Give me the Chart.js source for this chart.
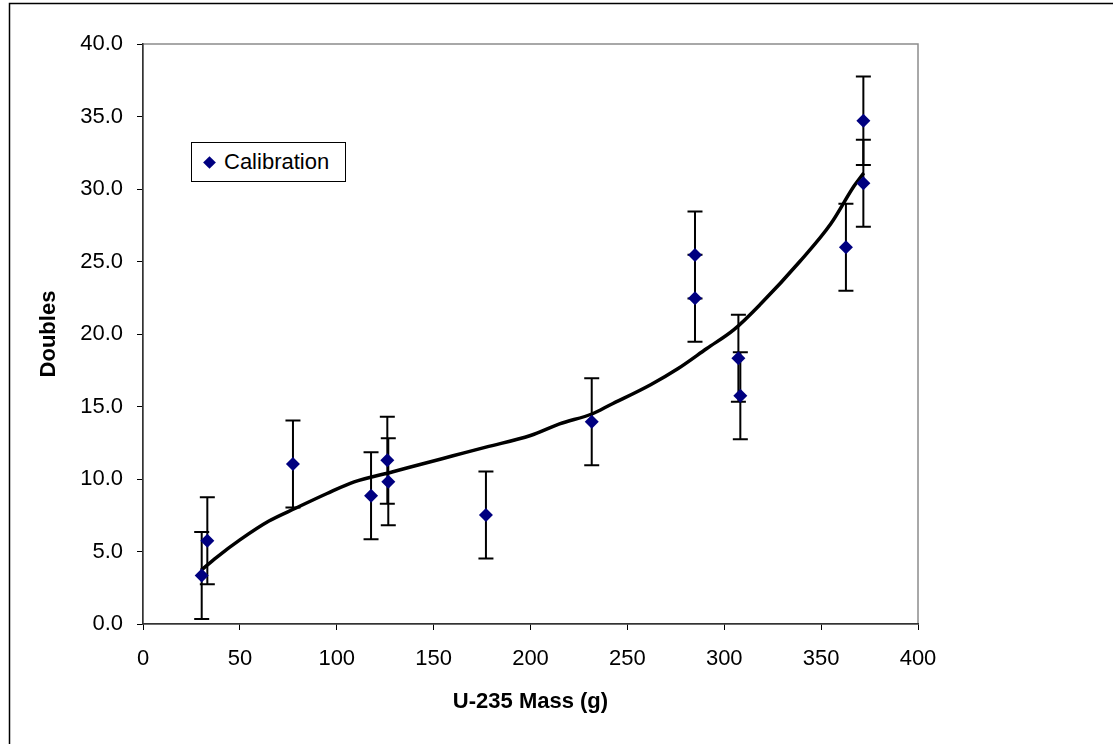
<!DOCTYPE html>
<html>
<head>
<meta charset="utf-8">
<script src="https://cdn.jsdelivr.net/npm/chart.js@4.4.1/dist/chart.umd.min.js"></script>
<style>
    body { margin: 0; background: #fff; overflow: hidden; }
    #wrap { position: relative; width: 1113px; height: 744px; }
    #legend {
        position: absolute; left: 191px; top: 142px; width: 153px; height: 38px;
        border: 1px solid #000; background: #fff;
        font: 22px 'Liberation Sans', Arial, sans-serif; color: #000;
        display: flex; align-items: center;
    }
    #legend .mk {
        width: 9px; height: 9px; background: #000080; transform: rotate(45deg);
        margin-left: 13px; margin-right: 10px;
    }
</style>
</head>
<body>
<div id="wrap">
    <canvas id="chart" width="1113" height="744"></canvas>
    <div id="legend"><span class="mk"></span><span>Calibration</span></div>
</div>
<script>
// calibration measurements (mass in g, doubles rate, error bar half-width)
const massG      = [30.3, 33.2, 77.4, 117.7, 126.1, 126.6, 177.0, 231.6, 284.9, 284.9, 307.3, 308.3, 362.8, 371.8, 371.8];
const doubles    = [3.35, 5.75, 11.03, 8.85, 11.3, 9.81, 7.52, 13.95, 25.45, 22.46, 18.32, 15.75, 25.98, 34.71, 30.39];
const doublesErr = [3.0, 3.0, 3.0, 3.0, 3.0, 3.0, 3.0, 3.0, 3.0, 3.0, 3.0, 3.0, 3.0, 3.05, 3.0];

// trend curve
const fitX = [30, 38, 50, 65, 79, 95, 109, 129, 143, 160, 177, 200, 215, 232, 241, 262, 276, 291, 305, 319, 339, 355, 367, 372];
const fitY = [3.7, 4.6, 5.8, 7.1, 8.0, 9.0, 9.8, 10.5, 11.0, 11.6, 12.2, 13.0, 13.8, 14.5, 15.1, 16.5, 17.6, 19.0, 20.3, 22.1, 25.0, 27.6, 30.2, 31.1];

const xTicks = [0, 50, 100, 150, 200, 250, 300, 350, 400];
const yTicks = [0, 5, 10, 15, 20, 25, 30, 35, 40];

const FONT = "'Liberation Sans', Arial, sans-serif";
Chart.defaults.font.family = FONT;
Chart.defaults.color = '#000';

const points = massG.map((x, i) => ({ x, y: doubles[i] }));
const fit    = fitX.map((x, i) => ({ x, y: fitY[i] }));

// outer frame + gray plot border
const framePlugin = {
    id: 'frame',
    beforeDraw(chart) {
        const { ctx, chartArea: a } = chart;
        ctx.save();
        ctx.fillStyle = '#fff';
        ctx.fillRect(0, 0, chart.width, chart.height);
        ctx.strokeStyle = '#000';
        ctx.lineWidth = 1.5;
        ctx.strokeRect(9.5, 3.5, 1300, 900);
        ctx.strokeStyle = '#8c8c8c';
        ctx.lineWidth = 1.5;
        ctx.strokeRect(a.left, a.top, a.right - a.left, a.bottom - a.top);
        ctx.restore();
    },
};

// vertical error bars, drawn under the diamonds
const errorBarPlugin = {
    id: 'errorBars',
    beforeDatasetDraw(chart, args) {
        if (args.index !== 0) return;
        const { ctx, scales: { x, y } } = chart;
        ctx.save();
        ctx.strokeStyle = '#000';
        ctx.lineWidth = 2;
        massG.forEach((m, i) => {
            const px = x.getPixelForValue(m);
            const top = y.getPixelForValue(doubles[i] + doublesErr[i]);
            const bot = y.getPixelForValue(doubles[i] - doublesErr[i]);
            ctx.beginPath();
            ctx.moveTo(px, top); ctx.lineTo(px, bot);
            ctx.moveTo(px - 7.5, top); ctx.lineTo(px + 7.5, top);
            ctx.moveTo(px - 7.5, bot); ctx.lineTo(px + 7.5, bot);
            ctx.stroke();
        });
        ctx.restore();
    },
};

new Chart(document.getElementById('chart'), {
    type: 'scatter',
    data: {
        datasets: [
            {
                label: 'Calibration',
                data: points,
                pointStyle: 'rectRot',
                pointRadius: 7,
                pointHoverRadius: 7,
                backgroundColor: '#000080',
                borderColor: '#000080',
                borderWidth: 0,
                order: 1,
            },
            {
                label: 'fit',
                type: 'line',
                data: fit,
                borderColor: '#000',
                borderWidth: 3.5,
                pointRadius: 0,
                fill: false,
                cubicInterpolationMode: 'monotone',
                order: 2,
            },
        ],
    },
    options: {
        responsive: false,
        animation: false,
        layout: { padding: { left: 0, top: 44, right: 195, bottom: 0 } },
        plugins: {
            legend: { display: false },
            tooltip: { enabled: false },
        },
        scales: {
            x: {
                type: 'linear',
                min: 0, max: 400,
                afterBuildTicks(s) { s.ticks = xTicks.map(v => ({ value: v })); },
                afterFit(s) { s.height = 120; },
                ticks: { font: { size: 22 }, padding: 16, maxRotation: 0 },
                grid: { drawOnChartArea: false, drawTicks: true, tickLength: 6, color: '#000', lineWidth: 1 },
                border: { color: '#333', width: 1.5 },
                title: {
                    display: true, text: 'U-235 Mass (g)',
                    font: { size: 22, weight: 'bold' }, padding: { top: 0, bottom: 29 },
                },
            },
            y: {
                type: 'linear',
                min: 0, max: 40,
                afterBuildTicks(s) { s.ticks = yTicks.map(v => ({ value: v })); },
                afterFit(s) { s.width = 143; },
                ticks: { font: { size: 22 }, padding: 14, callback: v => v.toFixed(1) },
                grid: { drawOnChartArea: false, drawTicks: true, tickLength: 6, color: '#000', lineWidth: 1 },
                border: { color: '#333', width: 1.5 },
                title: {
                    display: true, text: 'Doubles',
                    font: { size: 22, weight: 'bold' }, padding: { top: 36, bottom: 0 },
                },
            },
        },
    },
    plugins: [framePlugin, errorBarPlugin],
});
</script>
</body>
</html>
